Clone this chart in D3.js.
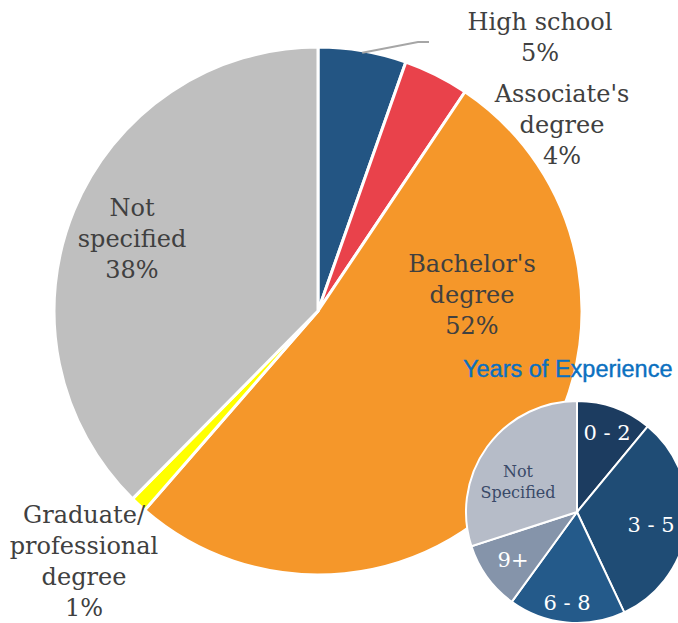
<!DOCTYPE html>
<html>
<head>
<meta charset="utf-8">
<script src="https://cdn.jsdelivr.net/npm/d3@7"></script>
<style>
  body { margin: 0; background: #fff; }
  svg { display: block; }
</style>
</head>
<body>
<svg id="chart"></svg>
<script>
// education share (%), clockwise from 12 o'clock
var eduLabels = [["High school", "5%"], ["Associate's", "degree", "4%"], ["Bachelor's", "degree", "52%"],
                 ["Graduate/", "professional", "degree", "1%"], ["Not", "specified", "38%"]];
var eduValues = [5.4, 4.0, 52.0, 1.0, 37.6];
var eduColors = ["#235583", "#E9424B", "#F5972A", "#FFFF00", "#BFBFBF"];

// years of experience share (%)
var expLabels = [["0 - 2"], ["3 - 5"], ["6 - 8"], ["9+"], ["Not", "Specified"]];
var expValues = [11, 32, 17, 10, 30];
var expColors = ["#1C3C60", "#1F4C75", "#245A8A", "#8594AA", "#B6BCC8"];

var width = 678, height = 623;

var svg = d3.select("#chart")
            .attr("width", width)
            .attr("height", height);

var pie = d3.pie().sort(null).value(function(d){ return d; });

// ---- main pie
var main = { cx: 318, cy: 311, r: 264 };
// label anchor (center x, first baseline) per slice
var eduLabelPos = [[540, 30], [562, 102], [472, 272], [84, 523], [132, 216]];

var mainArc = d3.arc().innerRadius(0).outerRadius(main.r);
var gMain = svg.append("g").attr("transform", "translate(" + main.cx + "," + main.cy + ")");

gMain.selectAll("path")
     .data(pie(eduValues))
     .enter().append("path")
     .attr("d", mainArc)
     .attr("fill", function(d, i){ return eduColors[i]; })
     .attr("stroke", "#fff")
     .attr("stroke-width", 3)
     .attr("stroke-linejoin", "round");

// leader line for high school
var hs = pie(eduValues)[0];
var hsAng = hs.startAngle + (hs.endAngle - hs.startAngle) * 0.5;
var p0 = [main.cx + Math.sin(hsAng) * (main.r - 2), main.cy - Math.cos(hsAng) * (main.r - 2)];
svg.append("polyline")
   .attr("points", [p0, [418, 42], [429, 42]].map(function(p){ return p.join(","); }).join(" "))
   .attr("fill", "none")
   .attr("stroke", "#A6A6A6")
   .attr("stroke-width", 2);

eduLabels.forEach(function(lines, i){
  var t = svg.append("text")
             .attr("text-anchor", "middle")
             .attr("font-family", "'DejaVu Serif', serif")
             .attr("font-size", 24)
             .attr("fill", "#404040");
  lines.forEach(function(s, j){
    t.append("tspan")
     .attr("x", eduLabelPos[i][0])
     .attr("y", eduLabelPos[i][1] + j * 31)
     .text(s);
  });
});

// ---- small pie
var sub = { cx: 577, cy: 512, r: 111 };
var expLabelPos = [[607, 440], [651, 532], [567, 610], [513, 567], [518, 477]];

svg.append("text")
   .attr("x", 463)
   .attr("y", 377)
   .attr("font-family", "'Liberation Sans', Arial, sans-serif")
   .attr("font-size", 23.5)
   .attr("fill", "#0B70C0")
   .attr("stroke", "#0B70C0")
   .attr("stroke-width", 0.4)
   .text("Years of Experience");

var subArc = d3.arc().innerRadius(0).outerRadius(sub.r);
var gSub = svg.append("g").attr("transform", "translate(" + sub.cx + "," + sub.cy + ")");

gSub.selectAll("path")
    .data(pie(expValues))
    .enter().append("path")
    .attr("d", subArc)
    .attr("fill", function(d, i){ return expColors[i]; })
    .attr("stroke", "#fff")
    .attr("stroke-width", 2);

expLabels.forEach(function(lines, i){
  var notSpec = lines.length > 1;
  var t = svg.append("text")
             .attr("text-anchor", "middle")
             .attr("font-family", "'DejaVu Serif', serif")
             .attr("font-size", notSpec ? 16 : 21)
             .attr("fill", notSpec ? "#3A4A68" : "#fff");
  lines.forEach(function(s, j){
    t.append("tspan")
     .attr("x", expLabelPos[i][0])
     .attr("y", expLabelPos[i][1] + j * 21)
     .text(s);
  });
});
</script>
</body>
</html>
